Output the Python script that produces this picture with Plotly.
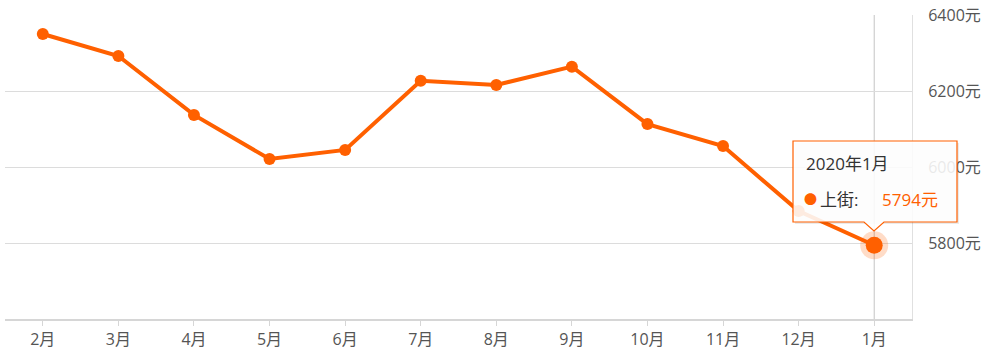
import plotly.graph_objects as go

months = ["2月", "3月", "4月", "5月", "6月", "7月", "8月", "9月", "10月", "11月", "12月", "1月"]
prices = [6350, 6292, 6137, 6021, 6045, 6227, 6216, 6264, 6113, 6055, 5884, 5794]
y_ticks = [5800, 6000, 6200, 6400]
series_name = "上街"
hover_title = "2020年1月"

ORANGE = "#FF6000"
FONT = "Open Sans, Noto Sans CJK SC"
W, H = 994, 357
L, R, T, B = 5, 82, 15, 38
PW, PH = W - L - R, H - T - B


def px(x):
    return (x - L) / PW


def py(y):
    return (H - B - y) / PH


fig = go.Figure()
fig.add_trace(go.Scatter(
    x=months, y=prices, mode="lines+markers",
    line=dict(color=ORANGE, width=4),
    marker=dict(color=ORANGE, size=12),
    hoverinfo="skip", showlegend=False, cliponaxis=False,
))
fig.add_trace(go.Scatter(
    x=[months[-1]], y=[prices[-1]], mode="markers",
    marker=dict(color="rgba(255,96,0,0.22)", size=28),
    hoverinfo="skip", showlegend=False, cliponaxis=False,
))
fig.add_trace(go.Scatter(
    x=[months[-1]], y=[prices[-1]], mode="markers",
    marker=dict(color=ORANGE, size=17),
    hoverinfo="skip", showlegend=False, cliponaxis=False,
))

# crosshair
fig.add_shape(type="line", xref="x", yref="paper", x0=len(months) - 1, x1=len(months) - 1,
              y0=0, y1=1, line=dict(color="#c4c4c4", width=1), layer="below")

# tooltip outline
bx0, bx1, by0, by1 = 793, 957, 141, 222
tip_x, tip_y = 874, 231
path = (f"M {px(bx0)},{py(by0)} L {px(bx1)},{py(by0)} L {px(bx1)},{py(by1)} "
        f"L {px(tip_x + 10)},{py(by1)} L {px(tip_x)},{py(tip_y)} L {px(tip_x - 10)},{py(by1)} "
        f"L {px(bx0)},{py(by1)} Z")
fig.add_shape(type="path", xref="paper", yref="paper",
              path=(f"M {px(bx0+2)},{py(by0+2)} L {px(bx1+2)},{py(by0+2)} L {px(bx1+2)},{py(by1+2)} "
                    f"L {px(bx0+2)},{py(by1+2)} Z"),
              fillcolor="rgba(0,0,0,0.08)", line=dict(width=0), layer="above")
fig.add_shape(type="path", xref="paper", yref="paper", path=path,
              fillcolor="rgba(255,255,255,0.88)", line=dict(color=ORANGE, width=1.2), layer="above")

fig.add_annotation(xref="paper", yref="paper", x=px(804), y=py(163), xanchor="left", yanchor="middle",
                   text=hover_title, showarrow=False, font=dict(family=FONT, size=17, color="#333"))
fig.add_annotation(xref="paper", yref="paper", x=px(802), y=py(199), xanchor="left", yanchor="middle",
                   text="●", showarrow=False, font=dict(family=FONT, size=13, color=ORANGE))
fig.add_annotation(xref="paper", yref="paper", x=px(818), y=py(199), xanchor="left", yanchor="middle",
                   text=series_name + ":", showarrow=False, font=dict(family=FONT, size=17, color="#333"))
fig.add_annotation(xref="paper", yref="paper", x=px(880), y=py(199), xanchor="left", yanchor="middle",
                   text=f"{prices[-1]}元", showarrow=False, font=dict(family=FONT, size=17, color=ORANGE))

fig.update_layout(
    width=W, height=H,
    margin=dict(l=L, r=R, t=T, b=B),
    plot_bgcolor="white", paper_bgcolor="white",
    font=dict(family=FONT, size=16, color="#555"),
    xaxis=dict(
        type="category", showgrid=False, range=[-0.5, len(months) - 0.5],
        showline=True, linecolor="#d6d6d6", linewidth=2,
        ticks="outside", ticklen=5, tickcolor="#d6d6d6", tickwidth=1,
        tickfont=dict(family=FONT, size=16, color="#555"),
        fixedrange=True,
    ),
    yaxis=dict(
        side="right", range=[5600, 6400], tickvals=y_ticks,
        ticktext=[f"{v}元" for v in y_ticks],
        showgrid=True, gridcolor="#dcdcdc", gridwidth=1,
        showline=True, linecolor="#e0e0e0", linewidth=1,
        zeroline=False, ticks="", ticklabelstandoff=12,
        tickfont=dict(family=FONT, size=16, color="#555"),
        fixedrange=True,
    ),
)

fig.write_html("out.html")
